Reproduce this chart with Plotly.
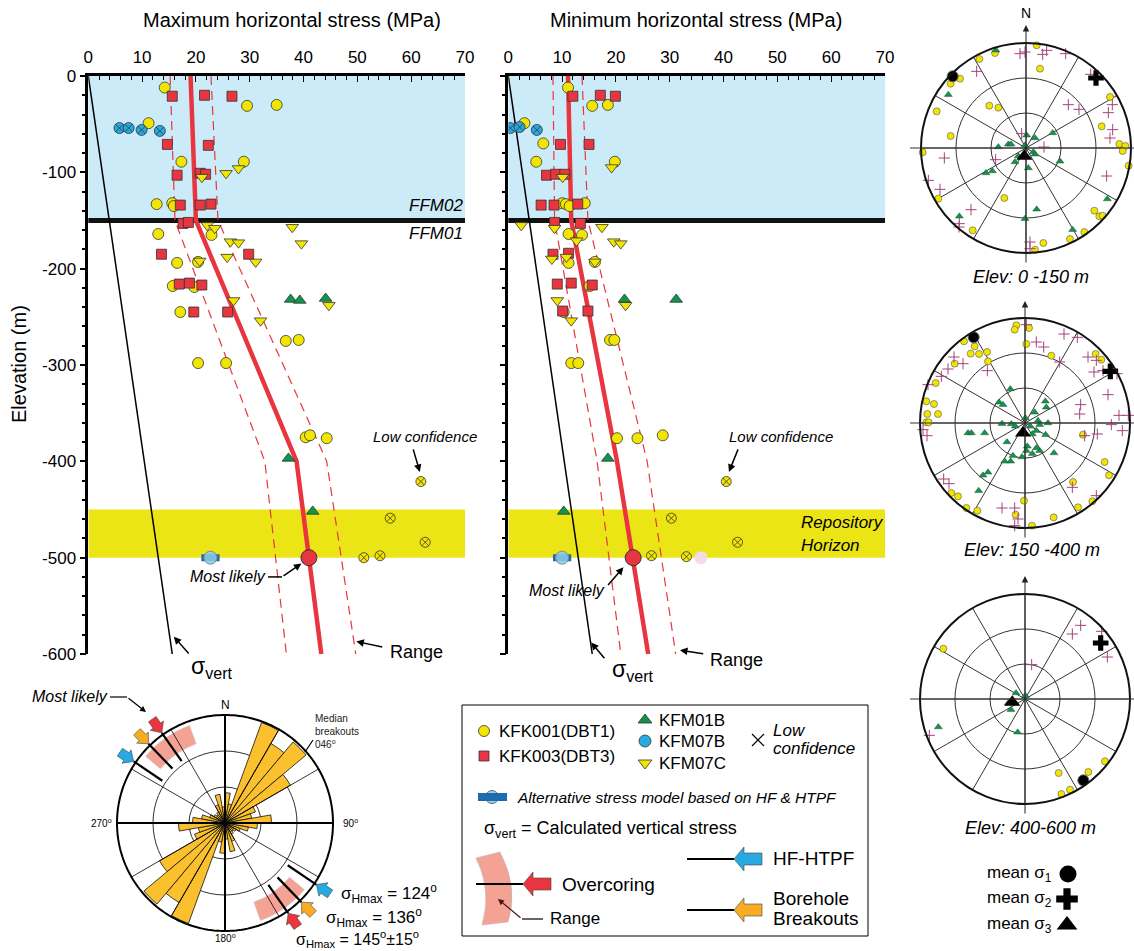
import numpy as np
import plotly.graph_objects as go

W, H = 1134, 951
FONT = "Liberation Sans, Arial, sans-serif"

# ---------------- axes / tick labels ----------------
X_TICKS = [0, 10, 20, 30, 40, 50, 60, 70]
Y_TICKS = [0, -100, -200, -300, -400, -500, -600]
Y_TICK_TEXT = ["0", "-100", "-200", "-300", "-400", "-500", "-600"]

# zones (elevation, m)
FFM02_TOP, FFM02_BASE = 0, -150
REPO_TOP, REPO_BASE = -450, -500

# calculated vertical stress
SIGMA_VERT_Z = [0, -600]
SIGMA_VERT = [0.0, 15.6]

# stress model (most likely and range)
MODEL_Z = [0, -150, -400, -600]
MAX_LIKELY = [19.0, 20.0, 38.7, 43.3]
MAX_LOW = [15.2, 16.1, 32.8, 36.8]
MAX_HIGH = [22.8, 24.1, 44.3, 49.7]
MIN_LIKELY = [11.1, 11.7, 20.2, 26.0]
MIN_LOW = [8.3, 8.6, 16.5, 20.9]
MIN_HIGH = [13.7, 14.8, 25.8, 31.1]

REF_Z = -500
MAX_MOST_LIKELY = 41.0
MAX_ALTERNATIVE = 22.7
MIN_MOST_LIKELY = 23.2
MIN_ALTERNATIVE = 10.0

# ---------------- measurements: maximum horizontal stress ----------------
MAX_KFK001_X = [14.2, 29.5, 35.0, 11.2, 17.3, 28.9, 12.7, 15.6, 15.9, 13.0, 22.9, 16.5, 20.4, 15.7,
                19.7, 17.1, 20.4, 25.6, 36.7, 39.1, 40.4, 41.2, 44.3]
MAX_KFK001_Z = [-12, -31, -30, -49, -89, -89, -133, -132, -135, -164, -165, -194, -193, -218,
                -219, -245, -298, -298, -275, -274, -375, -373, -376]
MAX_KFK003_X = [15.6, 21.6, 26.7, 14.7, 22.3, 16.5, 20.8, 21.8, 17.1, 20.8, 22.8, 17.6, 18.6, 13.6,
                29.8, 16.9, 18.8, 21.1, 19.6, 25.9]
MAX_KFK003_Z = [-21, -20, -21, -71, -72, -103, -101, -102, -134, -134, -133, -153, -152, -185,
                -185, -216, -215, -217, -245, -245]
MAX_KFM07C_X = [21.1, 25.6, 27.9, 22.1, 23.5, 37.9, 26.4, 27.9, 39.6, 25.8, 31.1, 20.7, 27.0, 44.7, 32.0]
MAX_KFM07C_Z = [-105, -101, -96, -155, -158, -157, -172, -173, -174, -188, -193, -192, -233, -238, -254]
MAX_KFM01B_X = [37.6, 39.3, 44.1, 37.2, 41.7]
MAX_KFM01B_Z = [-232, -233, -231, -397, -452]
MAX_KFM07B_LOWCONF_X = [5.8, 7.5, 9.9, 13.3]
MAX_KFM07B_LOWCONF_Z = [-54, -54, -56, -57]
MAX_KFK001_LOWCONF_X = [61.8, 56.1, 62.6, 51.2, 54.2]
MAX_KFK001_LOWCONF_Z = [-421, -459, -484, -500, -498]

# ---------------- measurements: minimum horizontal stress ----------------
MIN_KFK001_X = [11.1, 15.6, 18.5, 3.0, 6.5, 5.2, 19.8, 10.0, 10.7, 11.4, 14.2, 11.2, 13.7, 11.2,
                16.1, 15.1, 10.3, 18.9, 19.7, 11.7, 13.0, 20.2, 24.0, 28.7]
MIN_KFK001_Z = [-12, -31, -30, -49, -70, -89, -89, -132, -133, -135, -132, -164, -165, -194,
                -193, -218, -245, -274, -274, -298, -298, -376, -376, -373]
MIN_KFK003_X = [12.0, 17.1, 19.9, 9.7, 15.0, 7.1, 8.8, 10.5, 6.1, 8.5, 12.9, 8.6, 13.4, 8.3,
                11.2, 9.1, 11.7, 15.6, 10.1, 14.8]
MIN_KFK003_Z = [-21, -20, -21, -71, -71, -103, -102, -102, -134, -134, -133, -152, -153, -185,
                -184, -216, -215, -217, -244, -244]
MIN_KFM07C_X = [10.1, 19.2, 2.4, 8.6, 17.4, 12.7, 19.6, 20.9, 8.1, 10.8, 16.1, 9.1, 21.8, 11.7]
MIN_KFM07C_Z = [-105, -95, -155, -158, -157, -171, -172, -174, -190, -188, -193, -233, -238, -254]
MIN_KFM01B_X = [21.6, 31.2, 18.5, 10.3]
MIN_KFM01B_Z = [-232, -232, -397, -452]
MIN_KFM07B_LOWCONF_X = [0.4, 2.1, 5.3]
MIN_KFM07B_LOWCONF_Z = [-54, -53, -56]
MIN_KFK001_LOWCONF_X = [40.5, 30.3, 42.6, 26.6, 33.1]
MIN_KFK001_LOWCONF_Z = [-421, -459, -484, -498, -499]
MIN_FADED_X = [35.8]
MIN_FADED_Z = [-500]

# ---------------- stereonets (equal-area projected east / north, primitive radius = NET_R) ---------
NET_R = 315.0
S1_SIG1_E = [32, -93, -140, -198, -226, 42, -268, -110, -83, -226, -310, 252, 227, 280, 298, 290, 308,
             -263, -65, 205, 220, 230, -160, 175, 132, 52, 27]
S1_SIG1_N = [308, 285, 267, 208, 193, 238, 110, 127, 121, 36, -13, 153, 65, 12, 6, -9, -53,
             -152, -150, -188, -205, -203, -247, -252, -273, -285, -305]
S1_SIG2_E = [-3, -18, 50, 62, 119, -148, 194, 127, 159, 259, 247, 260, 252, 54, -13, -245, -91, -293,
             -258, 242, -165, -200, -201, 12, 12]
S1_SIG2_N = [288, 283, 281, 293, 283, 230, 221, 130, 116, 130, 106, 55, 30, 3, 43, -30, -35, -97,
             -124, -84, -185, -227, -237, -282, -302]
S1_SIG3_E = [-90, -233, 80, 2, 27, -53, -45, -83, -3, 22, 27, -23, -33, 7, 102, -120, -101, 32, -200,
             -3, 140, 244]
S1_SIG3_N = [293, 160, 45, 38, 30, 11, 11, 3, 8, -12, -19, -24, -42, -60, -40, -75, -69, -184, -205,
             -212, -245, -153]
S1_MEAN_E = [-220, 210, -5]
S1_MEAN_N = [215, 210, -25]

S2_SIG1_E = [-26, -31, 12, 4, -183, -151, -163, -138, -114, -111, -211, 79, 212, 229, -268, -296, -273,
             -293, -261, -296, -289, 174, 239, 252, 144, -221, -201, -176, -143, -3, -28, 21, 86, 159, 202]
S2_SIG1_N = [293, 280, 285, 237, 245, 230, 208, 207, 213, 185, 178, 202, 207, 190, 120, 65, 57,
             27, 27, 2, 2, -35, -117, -157, -177, -210, -220, -255, -263, -233, -275, -308, -283, -253, -235]
S2_SIG2_E = [4, 117, 157, 34, 56, 104, 189, 214, -213, -186, -231, -113, -251, -291, 207, 234, 276, 249,
             167, 164, 282, 310, 259, 292, 217, 179, -306, -294, -244, -228, 142, 214, -69, -31, -21, -31]
S2_SIG2_N = [295, 267, 257, 243, 228, 183, 198, 188, 198, 178, 162, 157, 140, 115, 153, 157, 148, 85,
             55, 27, 23, 23, -5, -23, -33, -38, -20, -38, -168, -182, -193, -218, -255, -255, -288, -308]
S2_SIG3_E = [-44, -78, -66, 61, 64, 29, 1, -69, -41, -29, 39, 44, 69, 16, 34, 22, 62, -171, -161, -121,
             -54, 7, 4, 22, 44, 34, 87, -36, -43, -61, -9, -111, -126, -139]
S2_SIG3_N = [102, 62, 55, 65, 47, 32, 15, -2, -3, -10, 7, -5, 0, -10, -23, -33, -35, -30, -30, -30,
             -57, -70, -83, -92, -83, -75, -90, -98, -115, -115, -102, -148, -157, -203]
S2_MEAN_E = [-154, 256, -6]
S2_MEAN_N = [257, 155, -30]

S3_SIG1_E = [-245, 240, 190, 101, 135, 109]
S3_SIG1_N = [151, -187, -219, -222, -272, -285]
S3_SIG2_E = [167, 142, 230, 247, 20, -287]
S3_SIG2_N = [221, 195, 203, 126, 103, -109]
S3_SIG3_E = [-27, 1, -50, -42, -22, -260]
S3_SIG3_N = [18, 10, -12, -32, -100, -84]
S3_MEAN_E = [175, 227, -38]
S3_MEAN_N = [-244, 168, -10]

# ---------------- rose diagram of borehole breakouts (10 degree bins) ----------------
ROSE_BIN_CENTRE = list(range(5, 360, 10))
ROSE_LENGTH = [0.28, 0.18, 0.99, 0.85, 0.98, 0.70, 0.30, 0.25, 0.43,
               0.30, 0.22, 0.15, 0.12, 0.10, 0.12, 0.18, 0.27, 0.15,
               0.28, 0.18, 0.99, 0.85, 0.98, 0.70, 0.30, 0.25, 0.43,
               0.30, 0.22, 0.15, 0.12, 0.10, 0.12, 0.18, 0.27, 0.15]
SHMAX_HF = 124
SHMAX_BB = 136
SHMAX_OC = 145
SHMAX_OC_RANGE = 15
MEDIAN_BREAKOUT = 46

# ---------------- colours ----------------
YEL = "#F2E600"
RED = "#E8353F"
GRN = "#0E964A"
BLU = "#27A9E1"
ORG = "#F7AC23"
PINK = "#F4A294"
EDGE = "#333333"

fig = go.Figure()


def markers(x, y, sym, color, size, xa="x", ya="y", lw=0.8, lc=EDGE):
    fig.add_trace(go.Scatter(x=x, y=y, mode="markers", xaxis=xa, yaxis=ya, hoverinfo="skip",
                             marker=dict(symbol=sym, color=color, size=size, line=dict(color=lc, width=lw))))


def line(x, y, color, width, dash="solid", xa="x", ya="y"):
    fig.add_trace(go.Scatter(x=x, y=y, mode="lines", xaxis=xa, yaxis=ya, hoverinfo="skip",
                             line=dict(color=color, width=width, dash=dash)))


def note(x, y, text, size, xref="x3", yref="y3", xanchor="center", italic=False, angle=0, color="black"):
    t = f"<i>{text}</i>" if italic else text
    fig.add_annotation(x=x, y=y, xref=xref, yref=yref, text=t, showarrow=False, xanchor=xanchor,
                       yanchor="middle", textangle=angle, font=dict(size=size, family=FONT, color=color))


def arrow(hx, hy, tx, ty, xref="x3", yref="y3", color="black", width=1.5, head=2, size=1.0):
    fig.add_annotation(x=hx, y=hy, ax=tx, ay=ty, xref=xref, yref=yref, axref=xref, ayref=yref,
                       text="", showarrow=True, arrowhead=head, arrowsize=size, arrowwidth=width,
                       arrowcolor=color)


def seg(x0, y0, x1, y1, xref="x3", yref="y3", color="black", width=1.5, layer="above"):
    fig.add_shape(type="line", x0=x0, y0=y0, x1=x1, y1=y1, xref=xref, yref=yref, layer=layer,
                  line=dict(color=color, width=width))


# ---------------- depth profile panels ----------------
panels = [
    dict(xa="x", ya="y", low=MAX_LOW, high=MAX_HIGH, likely=MAX_LIKELY, ml=MAX_MOST_LIKELY,
         alt=MAX_ALTERNATIVE,
         pts=[(MAX_KFK001_X, MAX_KFK001_Z, "circle", YEL, 11),
              (MAX_KFK003_X, MAX_KFK003_Z, "square", RED, 10),
              (MAX_KFM07C_X, MAX_KFM07C_Z, "triangle-down", YEL, 11),
              (MAX_KFM01B_X, MAX_KFM01B_Z, "triangle-up", GRN, 11),
              (MAX_KFM07B_LOWCONF_X, MAX_KFM07B_LOWCONF_Z, "circle-x", BLU, 11),
              (MAX_KFK001_LOWCONF_X, MAX_KFK001_LOWCONF_Z, "circle-x", YEL, 10)]),
    dict(xa="x2", ya="y2", low=MIN_LOW, high=MIN_HIGH, likely=MIN_LIKELY, ml=MIN_MOST_LIKELY,
         alt=MIN_ALTERNATIVE,
         pts=[(MIN_KFK001_X, MIN_KFK001_Z, "circle", YEL, 11),
              (MIN_KFK003_X, MIN_KFK003_Z, "square", RED, 10),
              (MIN_KFM07C_X, MIN_KFM07C_Z, "triangle-down", YEL, 11),
              (MIN_KFM01B_X, MIN_KFM01B_Z, "triangle-up", GRN, 11),
              (MIN_KFM07B_LOWCONF_X, MIN_KFM07B_LOWCONF_Z, "circle-x", BLU, 11),
              (MIN_KFK001_LOWCONF_X, MIN_KFK001_LOWCONF_Z, "circle-x", YEL, 10)]),
]

for p in panels:
    xa, ya = p["xa"], p["ya"]
    fig.add_shape(type="rect", xref=xa, yref=ya, x0=X_TICKS[0], x1=X_TICKS[-1], y0=FFM02_BASE, y1=FFM02_TOP,
                  fillcolor="#CCEBF9", line_width=0, layer="below")
    fig.add_shape(type="rect", xref=xa, yref=ya, x0=X_TICKS[0], x1=X_TICKS[-1], y0=REPO_BASE, y1=REPO_TOP,
                  fillcolor="#ECE516", line_width=0, layer="below")
    fig.add_shape(type="line", xref=xa, yref=ya, x0=-0.8, x1=X_TICKS[-1] + 0.5, y0=FFM02_BASE, y1=FFM02_BASE,
                  line=dict(color="#111", width=5), layer="below")
    line(SIGMA_VERT, SIGMA_VERT_Z, "black", 1.5, xa=xa, ya=ya)
    line(p["low"], MODEL_Z, RED, 1.2, dash="9px,6px", xa=xa, ya=ya)
    line(p["high"], MODEL_Z, RED, 1.2, dash="9px,6px", xa=xa, ya=ya)
    line(p["likely"], MODEL_Z, RED, 4.5, xa=xa, ya=ya)
    for (x, z, sym, col, sz) in p["pts"]:
        markers(x, z, sym, col, sz, xa=xa, ya=ya)
    # alternative stress model (bar + circle)
    line([p["alt"] - 1.7, p["alt"] + 1.7], [REF_Z, REF_Z], "#1F6BB0", 7, xa=xa, ya=ya)
    markers([p["alt"]], [REF_Z], "circle", "rgba(140,205,235,0.85)", 13, xa=xa, ya=ya, lw=1, lc="#888")
    markers([p["ml"]], [REF_Z], "circle", RED, 16, xa=xa, ya=ya, lw=1, lc=EDGE)

markers(MIN_FADED_X, MIN_FADED_Z, "circle", "#F1DCE8", 13, xa="x2", ya="y2", lw=0, lc="#F1DCE8")

# panel annotations -- maximum
note(62.5, -374, "Low confidence", 15, "x", "y", italic=True)
arrow(61.6, -411, 60.3, -386, "x", "y")
note(33.4, -520, "Most likely", 16, "x", "y", xanchor="right", italic=True)
seg(33.4, -520, 36.0, -520, "x", "y")
arrow(39.6, -506, 36.0, -520, "x", "y")
note(212, 667, "σ<sub>vert</sub>", 23)
arrow(15.9, -582, 18.9, -601, "x", "y")
note(55.6, -598, "Range", 18, "x", "y", xanchor="left")
arrow(49.8, -587, 54.9, -593, "x", "y")
note(70, -134, "FFM02", 17, "x", "y", xanchor="right", italic=True)
note(70, -164, "FFM01", 17, "x", "y", xanchor="right", italic=True)
# panel annotations -- minimum
note(50.6, -374, "Low confidence", 15, "x2", "y2", italic=True)
arrow(41.0, -411, 42.8, -386, "x2", "y2")
note(18.3, -534, "Most likely", 16, "x2", "y2", xanchor="right", italic=True)
arrow(21.4, -510, 18.3, -530, "x2", "y2")
note(633, 670, "σ<sub>vert</sub>", 23)
arrow(15.4, -588, 18.1, -606, "x2", "y2")
note(708, 660, "Range", 18, xanchor="left")
arrow(31.9, -596, 36.5, -599.9, "x2", "y2")
note(54.1, -464, "Repository", 17, "x2", "y2", xanchor="left", italic=True)
note(54.1, -487, "Horizon", 17, "x2", "y2", xanchor="left", italic=True)
note(71.2, -134, "FFM02", 17, "x2", "y2", xanchor="right", italic=True)
note(71.2, -164, "FFM01", 17, "x2", "y2", xanchor="right", italic=True)

# ---------------- stereonets ----------------
def to_polar(e, n):
    e = np.asarray(e, float) / NET_R
    n = np.asarray(n, float) / NET_R
    return (np.degrees(np.arctan2(e, n)) % 360).tolist(), np.hypot(e, n).tolist()


def stereo_traces(sub, s1e, s1n, s2e, s2n, s3e, s3n, me, mn):
    th, r = to_polar(s1e, s1n)
    fig.add_trace(go.Scatterpolar(theta=th, r=r, mode="markers", subplot=sub, hoverinfo="skip",
                                  marker=dict(symbol="circle", size=7, color=YEL, line=dict(color="#555", width=0.6))))
    th, r = to_polar(s2e, s2n)
    fig.add_trace(go.Scatterpolar(theta=th, r=r, mode="markers", subplot=sub, hoverinfo="skip",
                                  marker=dict(symbol="cross-thin", size=8, color="#A5427D",
                                              line=dict(color="#A5427D", width=1))))
    th, r = to_polar(s3e, s3n)
    fig.add_trace(go.Scatterpolar(theta=th, r=r, mode="markers", subplot=sub, hoverinfo="skip",
                                  marker=dict(symbol="triangle-up", size=7, color=GRN, line=dict(color="#333", width=0.4))))
    th, r = to_polar(me, mn)
    fig.add_trace(go.Scatterpolar(theta=[th[0]], r=[r[0]], mode="markers", subplot=sub, hoverinfo="skip",
                                  marker=dict(symbol="circle", size=11, color="black", line=dict(color="#666", width=1))))
    fig.add_trace(go.Scatterpolar(theta=[th[1]], r=[r[1]], mode="markers", subplot=sub, hoverinfo="skip",
                                  marker=dict(symbol="cross", size=13, color="black", line=dict(width=0))))
    fig.add_trace(go.Scatterpolar(theta=[th[2]], r=[r[2]], mode="markers", subplot=sub, hoverinfo="skip",
                                  marker=dict(symbol="triangle-up", size=14, color="black", line=dict(width=0))))


stereo_traces("polar", S1_SIG1_E, S1_SIG1_N, S1_SIG2_E, S1_SIG2_N, S1_SIG3_E, S1_SIG3_N, S1_MEAN_E, S1_MEAN_N)
stereo_traces("polar2", S2_SIG1_E, S2_SIG1_N, S2_SIG2_E, S2_SIG2_N, S2_SIG3_E, S2_SIG3_N, S2_MEAN_E, S2_MEAN_N)
stereo_traces("polar3", S3_SIG1_E, S3_SIG1_N, S3_SIG2_E, S3_SIG2_N, S3_SIG3_E, S3_SIG3_N, S3_MEAN_E, S3_MEAN_N)

STEREO_GEOM = [(1026, 148, 105), (1025, 423, 105), (1025, 699, 105)]
for (cx, cy, R), top in zip(STEREO_GEOM, [25, 301, 576]):
    seg(910, cy, 1134, cy, color="#333", width=1)
    arrow(cx, top, cx, cy + R + 11, color="#222", width=1, head=2, size=1.3)
note(1026, 13, "N", 14)
note(1031, 277, "Elev: 0 -150 m", 18, italic=True)
note(1032, 550, "Elev: 150 -400 m", 18, italic=True)
note(1030, 828, "Elev: 400-600 m", 18, italic=True)
note(1054, 874, "mean σ<sub>1</sub>", 17, xanchor="right")
note(1054, 899, "mean σ<sub>2</sub>", 17, xanchor="right")
note(1054, 925, "mean σ<sub>3</sub>", 17, xanchor="right")
markers([1068], [874], "circle", "black", 17, "x3", "y3", lw=0)
markers([1067], [899], "cross", "black", 18, "x3", "y3", lw=0)
markers([1067], [925], "triangle-up", "black", 18, "x3", "y3", lw=0)

# ---------------- rose diagram ----------------
RMAX = 1.18
fig.add_trace(go.Barpolar(theta=ROSE_BIN_CENTRE, r=ROSE_LENGTH, width=10, subplot="polar4", hoverinfo="skip",
                          marker=dict(color="#FBC02D", line=dict(color="#111", width=0.8))))
fig.add_trace(go.Barpolar(theta=[SHMAX_OC, SHMAX_OC + 180], r=[0.18, 0.18], base=[0.78, 0.78],
                          width=[2 * SHMAX_OC_RANGE] * 2, subplot="polar4", hoverinfo="skip",
                          marker=dict(color=PINK, line=dict(color="#c9c9c9", width=0.6))))
for a in range(0, 360, 30):
    fig.add_trace(go.Scatterpolar(theta=[a, a], r=[0, 1], mode="lines", subplot="polar4", hoverinfo="skip",
                                  line=dict(color="black", width=2 if a % 90 == 0 else 0.8)))
circ = np.linspace(0, 360, 241)
fig.add_trace(go.Scatterpolar(theta=circ, r=np.ones_like(circ), mode="lines", subplot="polar4",
                              hoverinfo="skip", line=dict(color="black", width=2)))


def arrow_polar(az, r_tip=1.02, r_tail=1.175, head=0.08, hw=0.075, sw=0.043):
    pts = [(r_tip, 0), (r_tip + head, hw), (r_tip + head, sw), (r_tail, sw), (r_tail, -sw),
           (r_tip + head, -sw), (r_tip + head, -hw), (r_tip, 0)]
    a = np.radians(az)
    th, rr = [], []
    for s, t in pts:
        e = s * np.sin(a) + t * np.cos(a)
        n = s * np.cos(a) - t * np.sin(a)
        th.append(float(np.degrees(np.arctan2(e, n)) % 360))
        rr.append(float(np.hypot(e, n)))
    return th, rr


for az, col in [(SHMAX_HF, BLU), (SHMAX_BB, ORG), (SHMAX_OC, RED)]:
    for d in (az, az + 180):
        fig.add_trace(go.Scatterpolar(theta=[d, d], r=[0.7, 1.02], mode="lines", subplot="polar4",
                                      hoverinfo="skip", line=dict(color="black", width=2.2)))
        th, rr = arrow_polar(d)
        fig.add_trace(go.Scatterpolar(theta=th, r=rr, mode="lines", fill="toself", fillcolor=col,
                                      subplot="polar4", hoverinfo="skip", line=dict(color="#444", width=0.6)))

note(225, 705, "N", 12)
note(101, 823, "270<sup>o</sup>", 10)
note(350, 823, "90<sup>o</sup>", 10)
note(225, 938, "180<sup>o</sup>", 10)
fig.add_annotation(x=313, y=711, xref="x3", yref="y3", text="Median<br>breakouts<br>0%d<sup>o</sup>" % MEDIAN_BREAKOUT,
                   showarrow=False, xanchor="left", yanchor="top", align="left",
                   font=dict(size=10, family=FONT, color="#222"))
seg(313, 740, 305, 752, width=1.2)
note(110, 696, "Most likely", 16, xanchor="right", italic=True)
seg(110, 697, 127, 697, width=1.2)
arrow(146, 712, 127, 697, width=1.2)
note(339, 893, "σ<sub>Hmax</sub> = %d<sup>o</sup>" % SHMAX_HF, 17, xanchor="left")
note(324, 917, "σ<sub>Hmax</sub> = %d<sup>o</sup>" % SHMAX_BB, 17, xanchor="left")
note(294, 939, "σ<sub>Hmax</sub> = %d<sup>o</sup>±%d<sup>o</sup>" % (SHMAX_OC, SHMAX_OC_RANGE), 16, xanchor="left")

# ---------------- legend box ----------------
fig.add_shape(type="rect", x0=462, y0=705, x1=868, y1=936, xref="x3", yref="y3",
              line=dict(color="black", width=1), fillcolor="rgba(0,0,0,0)")
markers([484], [731], "circle", YEL, 11, "x3", "y3")
markers([484], [756], "square", RED, 10, "x3", "y3")
markers([645], [720], "triangle-up", GRN, 12, "x3", "y3")
markers([645], [741], "circle", BLU, 12, "x3", "y3")
markers([645], [763], "triangle-down", YEL, 12, "x3", "y3")
markers([758], [740], "x-thin", "black", 12, "x3", "y3", lw=1.2, lc="black")
note(497, 731, "KFK001(DBT1)", 17, xanchor="left")
note(497, 756, "KFK003(DBT3)", 17, xanchor="left")
note(657, 720, "KFM01B", 17, xanchor="left")
note(657, 741, "KFM07B", 17, xanchor="left")
note(657, 763, "KFM07C", 17, xanchor="left")
note(771, 730, "Low", 17, xanchor="left", italic=True)
note(771, 748, "confidence", 17, xanchor="left", italic=True)
fig.add_shape(type="rect", x0=478, y0=793, x1=507, y1=801, xref="x3", yref="y3",
              line=dict(width=0), fillcolor="#1F6BB0")
markers([492], [797], "circle", "rgba(140,205,235,0.9)", 13, "x3", "y3", lw=1, lc="#666")
note(515, 797, "Alternative stress model based on HF &amp; HTPF", 15.5, xanchor="left", italic=True)
note(482, 829, "σ<sub>vert</sub> = Calculated vertical stress", 18, xanchor="left")
fig.add_shape(type="path", path="M 476 858 Q 492 890 482 925 L 508 922 Q 519 888 500 852 Z",
              xref="x3", yref="y3", fillcolor=PINK, line=dict(color="#bbb", width=0.6))


def left_arrow(xt, y, col, length=28, head=10, hw=12, sw=6):
    p = (f"M {xt} {y} L {xt + head} {y - hw} L {xt + head} {y - sw} L {xt + length} {y - sw} "
         f"L {xt + length} {y + sw} L {xt + head} {y + sw} L {xt + head} {y + hw} Z")
    fig.add_shape(type="path", path=p, xref="x3", yref="y3", fillcolor=col, line=dict(color="#444", width=0.6))


seg(476, 884, 523, 884, width=2)
left_arrow(523, 884, RED)
note(560, 884, "Overcoring", 19, xanchor="left")
seg(543, 919, 522, 919, width=1.2)
arrow(498, 899, 522, 919, color="#4a1414", width=1.2)
note(548, 918, "Range", 17, xanchor="left")
seg(687, 859, 734, 859, width=2)
left_arrow(734, 859, BLU)
note(771, 858, "HF-HTPF", 19, xanchor="left")
seg(687, 910, 734, 910, width=2)
left_arrow(734, 910, ORG)
note(771, 898, "Borehole", 19, xanchor="left")
note(771, 918, "Breakouts", 19, xanchor="left")

# ---------------- titles ----------------
note(292, 20, "Maximum horizontal stress (MPa)", 20)
note(696, 20, "Minimum horizontal stress (MPa)", 20)
note(19, 364, "Elevation (m)", 20, angle=-90)

# ---------------- layout ----------------
YDOM = [1 - 654 / H, 1 - 76 / H]
xcommon = dict(range=[X_TICKS[0], X_TICKS[-1]], side="top", showline=True, linewidth=2.5, linecolor="black",
               ticks="inside", ticklen=6, tickwidth=1, tickcolor="black", tickmode="array", tickvals=X_TICKS,
               ticktext=[str(v) for v in X_TICKS], ticklabelstandoff=3, automargin=False,
               minor=dict(tickmode="linear", tick0=0, dtick=2, ticks="inside", ticklen=4, tickwidth=1,
                          tickcolor="black"),
               showgrid=False, zeroline=False, tickfont=dict(size=17, family=FONT, color="black"))
ycommon = dict(range=[-600, 0], showline=True, linewidth=2.5, linecolor="black", ticks="outside", ticklen=6,
               tickwidth=1.5, tickcolor="black", tickmode="array", tickvals=Y_TICKS, ticktext=Y_TICK_TEXT,
               automargin=False,
               minor=dict(tickmode="linear", tick0=0, dtick=20, ticks="outside", ticklen=4, tickwidth=1.5,
                          tickcolor="black"),
               showgrid=False, zeroline=False, domain=YDOM, tickfont=dict(size=17, family=FONT, color="black"))


def stereo_polar(cx, cy, R, rmax=1.0, grid=True):
    return dict(
        domain=dict(x=[(cx - rmax * R) / W, (cx + rmax * R) / W], y=[1 - (cy + rmax * R) / H, 1 - (cy - rmax * R) / H]),
        bgcolor="rgba(0,0,0,0)",
        radialaxis=dict(range=[0, rmax], tickmode="array", tickvals=[1 / 3, 2 / 3], showticklabels=False, ticks="",
                        showline=False, gridcolor="#333", gridwidth=0.8),
        angularaxis=dict(rotation=90, direction="clockwise", tickmode="linear", tick0=0, dtick=30,
                         showticklabels=False, ticks="", showgrid=grid, gridcolor="#333", gridwidth=0.8,
                         showline=grid, linecolor="#111", linewidth=2),
    )


fig.update_layout(
    width=W, height=H, margin=dict(l=0, r=0, t=0, b=0, pad=0, autoexpand=False),
    paper_bgcolor="white", plot_bgcolor="rgba(0,0,0,0)", showlegend=False,
    font=dict(family=FONT, color="black"),
    xaxis=dict(xcommon, domain=[88.3 / W, 465 / W], anchor="y"),
    yaxis=dict(ycommon, anchor="x"),
    xaxis2=dict(xcommon, domain=[508.3 / W, 885 / W], anchor="y2"),
    yaxis2=dict(ycommon, anchor="x2", showticklabels=False),
    xaxis3=dict(domain=[0, 1], range=[0, W], visible=False, anchor="y3", fixedrange=True, automargin=False),
    yaxis3=dict(domain=[0, 1], range=[H, 0], visible=False, anchor="x3", fixedrange=True, automargin=False),
    polar=stereo_polar(*STEREO_GEOM[0]),
    polar2=stereo_polar(*STEREO_GEOM[1]),
    polar3=stereo_polar(*STEREO_GEOM[2]),
    polar4=stereo_polar(225, 823, 108, rmax=RMAX, grid=False),
)

fig.write_html("out.html", config={"displayModeBar": False},
               post_script="document.body.style.margin='0';document.body.style.overflow='hidden';")
